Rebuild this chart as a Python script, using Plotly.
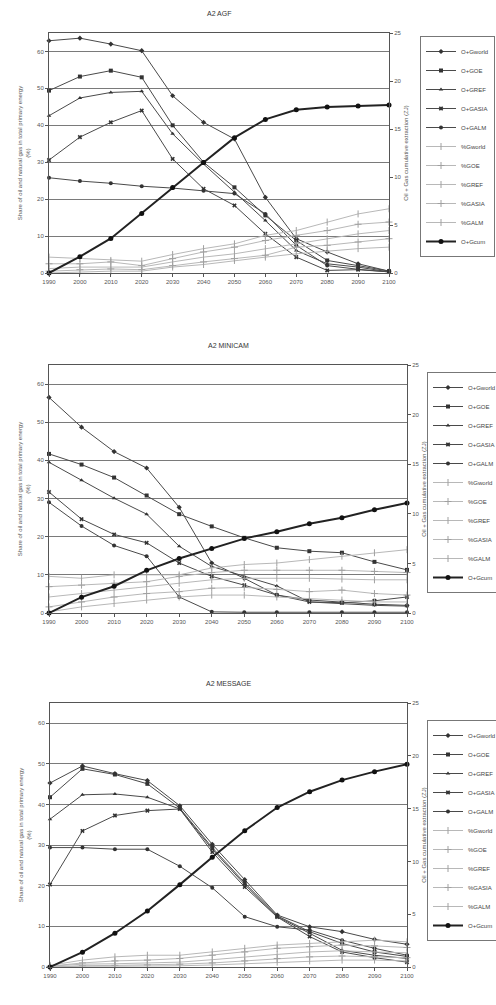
import plotly.graph_objects as go

years = [1990, 2000, 2010, 2020, 2030, 2040, 2050, 2060, 2070, 2080, 2090, 2100]
share_names = ["O+Gworld", "O+GOE", "O+GREF", "O+GASIA", "O+GALM"]
pct_names = ["%Gworld", "%GOE", "%GREF", "%GASIA", "%GALM"]
cum_name = "O+Gcum"

# ---- A2 AGF ----
agf_share = [
    [62.9, 63.6, 62.0, 60.2, 48.0, 40.8, 36.3, 20.5, 9.3, 5.7, 2.5, 0.5],
    [49.4, 53.2, 54.8, 53.0, 40.0, 30.0, 23.2, 15.6, 8.8, 3.4, 2.0, 0.5],
    [42.6, 47.4, 48.9, 49.2, 37.7, 29.5, 21.9, 14.2, 6.1, 2.5, 1.6, 0.3],
    [30.6, 36.8, 40.8, 44.0, 30.9, 22.8, 18.3, 10.6, 4.3, 0.7, 0.9, 0.3],
    [25.8, 24.9, 24.3, 23.5, 23.0, 22.3, 21.5, 16.0, 7.5, 2.0, 1.0, 0.3],
]
agf_pct = [
    [4.3, 3.9, 3.4, 3.2, 5.0, 6.6, 7.9, 10.2, 11.5, 13.8, 16.0, 17.4],
    [2.5, 2.5, 3.0, 2.0, 3.9, 5.7, 7.0, 8.8, 10.2, 11.5, 13.2, 13.8],
    [1.2, 1.6, 1.6, 1.6, 3.0, 4.3, 5.2, 6.6, 7.9, 9.3, 10.6, 11.5],
    [0.5, 0.9, 1.1, 0.9, 2.0, 3.0, 3.9, 4.8, 7.0, 7.5, 8.4, 9.3],
    [0.0, 0.3, 0.5, 0.5, 1.6, 2.3, 3.4, 4.3, 5.2, 6.0, 6.6, 7.0],
]
agf_cum = [0.0, 1.7, 3.6, 6.2, 8.9, 11.5, 14.1, 16.0, 17.0, 17.3, 17.4, 17.5]

# ---- A2 MINICAM ----
min_share = [
    [56.5, 48.7, 42.3, 38.0, 27.7, 13.1, 9.1, 4.7, 3.4, 2.9, 2.3, 2.0],
    [41.7, 38.9, 35.5, 30.8, 25.9, 22.7, 19.7, 17.1, 16.2, 15.8, 13.4, 11.3],
    [39.5, 34.8, 30.1, 25.9, 17.5, 12.2, 9.6, 7.1, 2.9, 2.5, 2.0, 1.8],
    [31.7, 24.6, 20.6, 18.4, 13.1, 9.6, 7.3, 4.7, 2.9, 2.7, 3.2, 4.2],
    [29.0, 22.8, 17.7, 14.9, 4.2, 0.3, 0.2, 0.2, 0.2, 0.2, 0.2, 0.2],
]
min_pct = [
    [9.6, 9.1, 10.0, 10.0, 10.0, 11.8, 12.7, 13.1, 14.0, 14.9, 15.8, 16.6],
    [6.9, 7.3, 7.8, 8.2, 9.6, 10.6, 11.2, 11.2, 11.2, 11.2, 10.9, 10.6],
    [4.2, 5.1, 6.0, 6.9, 7.8, 8.7, 9.1, 9.1, 9.1, 8.9, 8.7, 8.7],
    [1.6, 2.9, 4.2, 5.1, 5.6, 6.5, 6.7, 6.2, 5.6, 6.0, 5.1, 4.7],
    [0.3, 1.6, 2.5, 3.4, 4.2, 4.7, 4.7, 4.2, 3.8, 3.4, 2.9, 2.9],
]
min_cum = [0.0, 1.6, 2.7, 4.3, 5.5, 6.5, 7.5, 8.2, 9.0, 9.6, 10.4, 11.1]

# ---- A2 MESSAGE ----
msg_share = [
    [45.3, 49.5, 47.6, 45.9, 39.7, 30.2, 21.5, 12.8, 9.9, 8.7, 6.8, 5.6],
    [41.8, 48.8, 47.4, 45.1, 39.1, 29.4, 20.7, 12.6, 8.7, 5.8, 3.7, 2.6],
    [36.4, 42.4, 42.6, 41.8, 38.9, 29.0, 20.3, 12.4, 8.3, 4.1, 2.9, 2.1],
    [20.3, 33.5, 37.3, 38.5, 38.9, 28.3, 19.7, 12.3, 7.5, 3.7, 2.3, 1.2],
    [29.4, 29.4, 29.0, 29.0, 24.8, 19.5, 12.4, 9.9, 9.1, 6.6, 4.6, 2.9],
]
msg_pct = [
    [0.4, 1.7, 2.5, 2.9, 2.9, 3.7, 4.6, 5.4, 5.8, 6.2, 6.6, 6.2],
    [0.2, 1.0, 1.5, 1.7, 2.1, 2.9, 3.7, 4.6, 5.0, 5.4, 5.2, 4.8],
    [0.2, 0.7, 0.8, 1.0, 1.2, 1.8, 2.5, 3.1, 3.7, 4.0, 3.7, 3.5],
    [0.0, 0.3, 0.4, 0.5, 0.7, 1.0, 1.5, 2.1, 2.5, 2.7, 2.5, 2.3],
    [0.0, 0.2, 0.2, 0.2, 0.3, 0.5, 0.8, 1.2, 1.5, 1.7, 1.7, 1.5],
]
msg_cum = [0.0, 1.4, 3.2, 5.3, 7.8, 10.4, 12.9, 15.1, 16.6, 17.7, 18.5, 19.2]

titles = ["A2 AGF", "A2 MINICAM", "A2 MESSAGE"]
left_ticks = [0, 10, 20, 30, 40, 50, 60]
right_ticks = [0, 5, 10, 15, 20, 25]

FONT = "Liberation Sans, Arial, sans-serif"
share_symbols = ["diamond", "square", "triangle-up", "x", "circle"]
pct_symbols = ["line-ns-open", "cross-thin-open", "line-ns-open", "cross-thin-open", "line-ns-open"]

# layout geometry (px)
W, H = 496, 1005
panels = [
    dict(x0=49, x1=389, y0=33, y1=273, leg=(420, 36)),
    dict(x0=49, x1=407, y0=365, y1=613, leg=(427, 372)),
    dict(x0=50, x1=407, y0=703, y1=967, leg=(427, 720)),
]
datasets = [(agf_share, agf_pct, agf_cum), (min_share, min_pct, min_cum), (msg_share, msg_pct, msg_cum)]

fig = go.Figure()
layout = dict(
    width=W, height=H, margin=dict(l=0, r=0, t=0, b=0, autoexpand=False),
    paper_bgcolor="white", plot_bgcolor="white",
    font=dict(family=FONT, size=7, color="#444"),
    showlegend=True, annotations=[],
)

for i, (p, (sh, pc, cu)) in enumerate(zip(panels, datasets)):
    n = i + 1
    xa = "x" if n == 1 else f"x{n}"
    yl = "y" if n == 1 else f"y{2*n-1}"
    yr = f"y{2*n}"
    leg = "legend" if n == 1 else f"legend{n}"
    xdom = [p["x0"] / W, p["x1"] / W]
    ydom = [(H - p["y1"]) / H, (H - p["y0"]) / H]
    xkey = "xaxis" if n == 1 else f"xaxis{n}"
    ylkey = "yaxis" if n == 1 else f"yaxis{2*n-1}"
    yrkey = f"yaxis{2*n}"
    layout[xkey] = dict(
        domain=xdom, anchor=yl, range=[1990, 2100], tickvals=years,
        ticktext=[str(y) for y in years], showgrid=False, showline=True,
        linecolor="#555", linewidth=1, mirror=True, ticks="outside", ticklen=3,
        tickcolor="#555", tickfont=dict(size=6, color="#555"), zeroline=False,
    )
    layout[ylkey] = dict(
        domain=ydom, anchor=xa, range=[0, 65], tickvals=left_ticks,
        showgrid=True, gridcolor="#7a7a7a", gridwidth=1.3, showline=True,
        linecolor="#555", linewidth=1, zeroline=False, ticks="outside", ticklen=3,
        tickcolor="#555", tickfont=dict(size=6, color="#555"),
        title=dict(text="Share of oil and natural gas in total primary energy<br>(%)",
                   font=dict(size=6, color="#555"), standoff=6),
    )
    layout[yrkey] = dict(
        overlaying=yl, side="right", anchor=xa, range=[0, 25], tickvals=right_ticks,
        showgrid=False, showline=True, linecolor="#555", linewidth=1, zeroline=False,
        ticks="outside", ticklen=3, tickcolor="#555", tickfont=dict(size=6, color="#555"),
        title=dict(text="Oil + Gas cumulative extraction (ZJ)", font=dict(size=6, color="#555"), standoff=3),
    )
    lx, ly = p["leg"]
    layout[leg] = dict(
        x=lx / W, y=(H - ly) / H, xanchor="left", yanchor="top",
        bordercolor="#777", borderwidth=1, bgcolor="white",
        font=dict(size=6, color="#444"), itemwidth=30, tracegroupgap=0,
    )
    layout["annotations"].append(dict(
        text=titles[i], x=(xdom[0] + xdom[1]) / 2, y=ydom[1] + 14 / H,
        xref="paper", yref="paper", xanchor="center", yanchor="bottom",
        showarrow=False, font=dict(size=7, color="#333"),
    ))
    for k in range(5):
        fig.add_trace(go.Scatter(
            x=years, y=sh[k], name=share_names[k], xaxis=xa, yaxis=yl, legend=leg,
            mode="lines+markers", line=dict(color="#4a4a4a", width=1),
            marker=dict(symbol=share_symbols[k], size=4, color="#333"), cliponaxis=False,
        ))
    for k in range(5):
        fig.add_trace(go.Scatter(
            x=years, y=pc[k], name=pct_names[k], xaxis=xa, yaxis=yl, legend=leg,
            mode="lines+markers", line=dict(color="#b8b8b8", width=1),
            marker=dict(symbol=pct_symbols[k], size=5, color="#a0a0a0", line=dict(color="#a0a0a0", width=1)),
            cliponaxis=False,
        ))
    fig.add_trace(go.Scatter(
        x=years, y=cu, name=cum_name, xaxis=xa, yaxis=yr, legend=leg,
        mode="lines+markers", line=dict(color="#222", width=2),
        marker=dict(symbol="circle", size=5, color="#111"), cliponaxis=False,
    ))

fig.update_layout(**layout)
fig.write_html("out.html")
